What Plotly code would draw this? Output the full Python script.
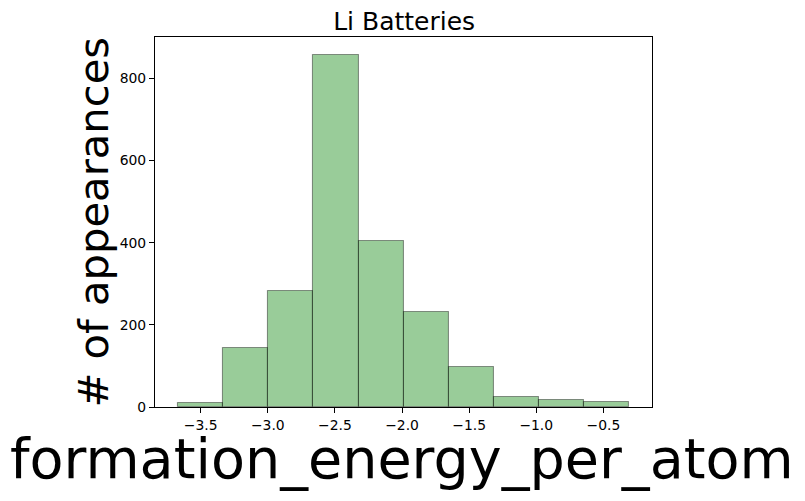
import plotly.graph_objects as go

# histogram data
bin_edges = [-3.672, -3.335, -2.999, -2.660, -2.320, -1.986, -1.650, -1.314, -0.978, -0.642, -0.306]
counts = [9, 143, 282, 858, 404, 231, 97, 24, 16, 11]
x_ticks = [-3.5, -3.0, -2.5, -2.0, -1.5, -1.0, -0.5]
y_ticks = [0, 200, 400, 600, 800]

title_text = "Li Batteries"
x_label = "formation_energy_per_atom"
y_label = "# of appearances"

centers = [(a + b) / 2 for a, b in zip(bin_edges[:-1], bin_edges[1:])]
widths = [b - a for a, b in zip(bin_edges[:-1], bin_edges[1:])]

FONT = "DejaVu Sans"

fig = go.Figure()
fig.add_trace(go.Bar(
    x=centers, y=counts, width=widths,
    marker=dict(color="rgba(0,128,0,0.4)",
                line=dict(color="rgba(0,0,0,0.4)", width=1.1)),
    showlegend=False, hoverinfo="x+y",
))

lo, hi = bin_edges[0], bin_edges[-1]
pad = 0.05 * (hi - lo)
ymax = max(counts) * 1.05

axis_common = dict(
    showgrid=False, zeroline=False, showline=True, linecolor="black", linewidth=1.1,
    mirror=True, ticks="outside", ticklen=5, tickwidth=1.1, tickcolor="black",
    tickfont=dict(family=FONT, size=13.9, color="black"),
)

fig.update_layout(
    width=805, height=501,
    margin=dict(l=155, r=153, t=37, b=94),
    paper_bgcolor="white", plot_bgcolor="white",
    font=dict(family=FONT, color="black"),
    bargap=0,
    title=dict(text=title_text, x=0.5013, xanchor="center", xref="paper",
               y=1 - 21 / 501, yref="container", yanchor="middle",
               font=dict(family=FONT, size=25, color="black")),
    xaxis=dict(range=[lo - pad, hi + pad], tickvals=x_ticks,
               ticktext=[f"\u2212{abs(v):.1f}" for v in x_ticks], **axis_common),
    yaxis=dict(range=[0, ymax], tickvals=y_ticks, **axis_common),
    annotations=[
        dict(text=x_label, xref="paper", yref="paper", x=0.497, y=-(459 - 407) / 370,
             xanchor="center", yanchor="middle", showarrow=False,
             font=dict(family=FONT, size=55.6, color="black")),
        dict(text=y_label, xref="paper", yref="paper", x=(93 - 155.3) / 496.4, y=0.5,
             xanchor="center", yanchor="middle", textangle=-90, showarrow=False,
             font=dict(family=FONT, size=41.7, color="black")),
    ],
)

fig.write_html("out.html", config={"displayModeBar": False},
               post_script="document.body.style.margin='0';")
